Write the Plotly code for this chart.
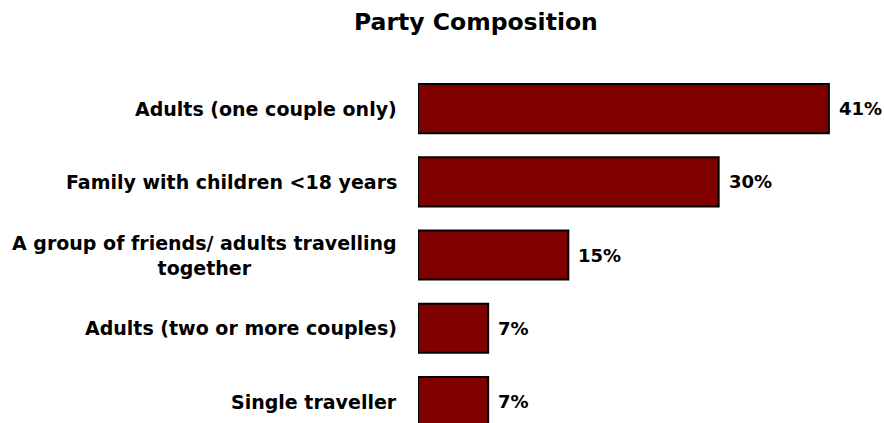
import plotly.graph_objects as go

categories = [
    "Adults (one couple only)",
    "Family with children <18 years",
    "A group of friends/ adults travelling<br>together",
    "Adults (two or more couples)",
    "Single traveller",
]
values = [41, 30, 15, 7, 7]
value_labels = ["41%", "30%", "15%", "7%", "7%"]
title_text = "Party Composition"

FONT = "DejaVu Sans"
BAR_COLOR = "#800000"

W, H = 884, 423
L, T = 418, 72

fig = go.Figure(
    go.Bar(
        x=values,
        y=categories,
        orientation="h",
        marker=dict(color=BAR_COLOR, line=dict(color="#000000", width=2)),
        width=0.67,
        hoverinfo="skip",
    )
)

annotations = []
for cat in categories:
    annotations.append(dict(
        x=0, y=cat, xref="x", yref="y", text="<b>%s</b>" % cat,
        xanchor="right", yanchor="middle", align="center", showarrow=False,
        xshift=-19, font=dict(family=FONT, size=19, color="#000000"),
    ))
for cat, v, lab in zip(categories, values, value_labels):
    annotations.append(dict(
        x=v, y=cat, xref="x", yref="y", text="<b>%s</b>" % lab,
        xanchor="left", yanchor="middle", showarrow=False,
        xshift=8, font=dict(family=FONT, size=18, color="#000000"),
    ))
annotations.append(dict(
    x=(476 - L) / (W - L), y=1 + (T - 22) / (H - T), xref="paper", yref="paper",
    text="<b>%s</b>" % title_text, xanchor="center", yanchor="middle",
    showarrow=False, font=dict(family=FONT, size=23.5, color="#000000"),
))

fig.update_layout(
    width=W, height=H,
    margin=dict(l=L, r=0, t=T, b=0, pad=0),
    paper_bgcolor="#ffffff", plot_bgcolor="#ffffff",
    showlegend=False,
    annotations=annotations,
    xaxis=dict(range=[0, 46.5], visible=False, fixedrange=True),
    yaxis=dict(categoryorder="array", categoryarray=categories,
               range=[4.293, -0.5], showticklabels=False, showgrid=False,
               zeroline=False, showline=False, ticks="", fixedrange=True),
)

fig.write_html(
    "out.html",
    config={"displayModeBar": False},
    post_script="document.body.style.margin='0';document.body.style.overflow='hidden';",
)
